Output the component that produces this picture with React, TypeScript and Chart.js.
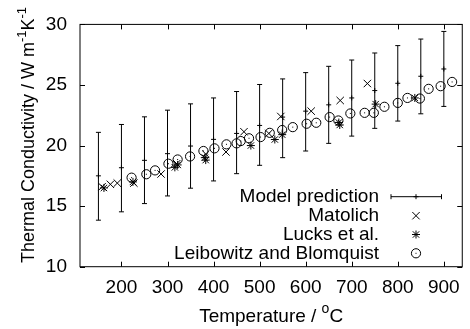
import React, { useEffect, useRef } from 'react';
import { Chart, registerables } from 'chart.js';

Chart.register(...registerables);

// ---- data ----
const modelT = [150, 200, 250, 300, 350, 400, 450, 500, 550, 600, 650, 700, 750, 800, 850, 900];
const modelMid = [17.5, 18.17, 18.78, 19.33, 19.96, 20.51, 21.0, 21.66, 22.35, 22.84, 23.36, 23.93, 24.54, 25.14, 25.72, 26.32];
const modelLow = [13.84, 14.53, 15.21, 15.84, 16.48, 17.08, 17.68, 18.37, 19.0, 19.55, 20.18, 20.78, 21.42, 22.02, 22.62, 23.23];
const modelHigh = [21.09, 21.74, 22.37, 22.92, 23.44, 23.93, 24.46, 25.04, 25.5, 26.02, 26.54, 27.06, 27.64, 28.25, 28.79, 29.42];

const matolichT = [158, 176, 191, 227, 286, 320, 383, 427, 466, 520, 546, 612, 675, 734];
const matolichK = [16.6, 16.8, 16.9, 16.9, 17.65, 18.5, 19.3, 19.47, 21.14, 21.0, 22.4, 22.84, 23.72, 25.12];

const lucksT = [162, 225, 316, 322, 381, 383, 481, 533, 549, 672, 674, 752, 837];
const lucksK = [16.5, 17.0, 18.2, 18.4, 19.0, 18.8, 20.0, 20.5, 20.9, 21.9, 21.7, 23.42, 23.93];

const leibT = [222, 254, 273, 302, 322, 349, 378, 402, 428, 450, 459, 477, 502, 522, 549, 572, 602, 623, 652, 671, 697, 728, 748, 771, 800, 821, 848, 867, 893, 918];
const leibK = [17.35, 17.63, 17.95, 18.5, 18.85, 19.1, 19.55, 19.77, 20.1, 20.18, 20.37, 20.6, 20.7, 21.05, 21.28, 21.52, 21.8, 21.88, 22.35, 22.07, 22.65, 22.7, 22.7, 23.2, 23.52, 23.93, 23.88, 24.68, 24.9, 25.25];

const xTicks = [200, 300, 400, 500, 600, 700, 800, 900];
const yTicks = [10, 15, 20, 25, 30];
const seriesNames = ['Model prediction', 'Matolich', 'Lucks et al.', 'Leibowitz and Blomquist'];

const FONT = "'Liberation Sans', Arial, Helvetica, sans-serif";
const FS = 19;

const toXY = (xs: number[], ys: number[]) => xs.map((x, i) => ({ x, y: ys[i] }));

function drawPlus(ctx: CanvasRenderingContext2D, x: number, y: number, r: number) {
  ctx.beginPath();
  ctx.moveTo(x - r, y); ctx.lineTo(x + r, y);
  ctx.moveTo(x, y - r); ctx.lineTo(x, y + r);
  ctx.stroke();
}
function drawCross(ctx: CanvasRenderingContext2D, x: number, y: number, r: number) {
  ctx.beginPath();
  ctx.moveTo(x - r, y - r); ctx.lineTo(x + r, y + r);
  ctx.moveTo(x - r, y + r); ctx.lineTo(x + r, y - r);
  ctx.stroke();
}
function drawStar(ctx: CanvasRenderingContext2D, x: number, y: number, r: number) {
  drawPlus(ctx, x, y, r);
  drawCross(ctx, x, y, r * 0.8);
}
function drawCircle(ctx: CanvasRenderingContext2D, x: number, y: number, r: number) {
  ctx.beginPath();
  ctx.arc(x, y, r, 0, Math.PI * 2);
  ctx.stroke();
  ctx.fillRect(x - 0.5, y - 0.5, 1, 1);
}

function drawSegments(ctx: CanvasRenderingContext2D, segs: { t: string; sup: boolean }[], cx: number, cy: number, size: number) {
  const main = `${size}px ${FONT}`;
  const sup = `${Math.round(size * 0.72)}px ${FONT}`;
  let total = 0;
  const widths = segs.map((s) => {
    ctx.font = s.sup ? sup : main;
    const w = ctx.measureText(s.t).width;
    total += w;
    return w;
  });
  let x = cx - total / 2;
  ctx.textAlign = 'left';
  ctx.textBaseline = 'middle';
  segs.forEach((s, i) => {
    ctx.font = s.sup ? sup : main;
    ctx.fillText(s.t, x, s.sup ? cy - 7 : cy);
    x += widths[i];
  });
}

const customPlugin = {
  id: 'gnuplotStyle',
  beforeDatasetsDraw(chart: any) {
    const ctx = chart.ctx as CanvasRenderingContext2D;
    const xs = chart.scales.x;
    const ys = chart.scales.y;
    ctx.save();
    ctx.strokeStyle = '#000';
    ctx.lineWidth = 1;
    modelT.forEach((t, i) => {
      const px = xs.getPixelForValue(t);
      const pl = ys.getPixelForValue(modelLow[i]);
      const ph = ys.getPixelForValue(modelHigh[i]);
      ctx.beginPath();
      ctx.moveTo(px, pl); ctx.lineTo(px, ph);
      ctx.moveTo(px - 2.5, pl); ctx.lineTo(px + 2.5, pl);
      ctx.moveTo(px - 2.5, ph); ctx.lineTo(px + 2.5, ph);
      ctx.stroke();
    });
    ctx.restore();
  },
  afterDatasetsDraw(chart: any) {
    const ctx = chart.ctx as CanvasRenderingContext2D;
    const xs = chart.scales.x;
    const ys = chart.scales.y;
    const a = chart.chartArea;
    ctx.save();
    ctx.strokeStyle = '#000';
    ctx.fillStyle = '#000';
    ctx.lineWidth = 1;
    // markers
    modelT.forEach((t, i) => drawPlus(ctx, xs.getPixelForValue(t), ys.getPixelForValue(modelMid[i]), 2.5));
    matolichT.forEach((t, i) => drawCross(ctx, xs.getPixelForValue(t), ys.getPixelForValue(matolichK[i]), 3.7));
    lucksT.forEach((t, i) => drawStar(ctx, xs.getPixelForValue(t), ys.getPixelForValue(lucksK[i]), 4));
    leibT.forEach((t, i) => drawCircle(ctx, xs.getPixelForValue(t), ys.getPixelForValue(leibK[i]), 4.6));
    // frame
    ctx.strokeRect(a.left, a.top, a.right - a.left, a.bottom - a.top);
    // inward ticks, mirrored
    const tl = 5;
    ctx.beginPath();
    xTicks.forEach((v) => {
      const px = Math.round(xs.getPixelForValue(v)) + 0.5;
      ctx.moveTo(px, a.bottom); ctx.lineTo(px, a.bottom - tl);
      ctx.moveTo(px, a.top); ctx.lineTo(px, a.top + tl);
    });
    yTicks.forEach((v) => {
      const py = Math.round(ys.getPixelForValue(v)) + 0.5;
      ctx.moveTo(a.left, py); ctx.lineTo(a.left + tl, py);
      ctx.moveTo(a.right, py); ctx.lineTo(a.right - tl, py);
    });
    ctx.stroke();
    // legend
    const textX = 379;
    const symX = 416;
    const rows = [196.7, 215.7, 234.5, 253.3];
    ctx.font = `${FS}px ${FONT}`;
    ctx.textAlign = 'right';
    ctx.textBaseline = 'middle';
    seriesNames.forEach((name, i) => ctx.fillText(name, textX, rows[i]));
    ctx.beginPath();
    ctx.moveTo(391, rows[0]); ctx.lineTo(441.5, rows[0]);
    ctx.moveTo(391, rows[0] - 2.5); ctx.lineTo(391, rows[0] + 2.5);
    ctx.moveTo(441.5, rows[0] - 2.5); ctx.lineTo(441.5, rows[0] + 2.5);
    ctx.stroke();
    drawPlus(ctx, symX, rows[0], 2.5);
    drawCross(ctx, symX, rows[1], 3.7);
    drawStar(ctx, symX, rows[2], 4);
    drawCircle(ctx, symX, rows[3], 4.6);
    // axis titles
    drawSegments(ctx, [
      { t: 'Temperature / ', sup: false },
      { t: 'o', sup: true },
      { t: 'C', sup: false },
    ], (a.left + a.right) / 2, 316.5, FS);
    ctx.translate(29, 135);
    ctx.rotate(-Math.PI / 2);
    drawSegments(ctx, [
      { t: 'Thermal Conductivity / W m', sup: false },
      { t: '-1', sup: true },
      { t: 'K', sup: false },
      { t: '-1', sup: true },
    ], 0, 0, 18);
    ctx.restore();
  },
};

export default function App() {
  const ref = useRef<HTMLCanvasElement | null>(null);
  useEffect(() => {
    document.body.style.margin = '0';
    const canvas = ref.current;
    if (!canvas) return;
    const chart = new Chart(canvas, {
      type: 'scatter',
      data: {
        datasets: [
          { label: seriesNames[0], data: toXY(modelT, modelMid), pointRadius: 0, showLine: false },
          { label: seriesNames[1], data: toXY(matolichT, matolichK), pointRadius: 0, showLine: false },
          { label: seriesNames[2], data: toXY(lucksT, lucksK), pointRadius: 0, showLine: false },
          { label: seriesNames[3], data: toXY(leibT, leibK), pointRadius: 0, showLine: false },
        ],
      },
      options: {
        animation: false,
        responsive: true,
        maintainAspectRatio: false,
        layout: { padding: { top: 23, right: 6.5, left: 0, bottom: 0 } },
        plugins: { legend: { display: false }, tooltip: { enabled: false } },
        events: [],
        scales: {
          x: {
            type: 'linear',
            min: 110,
            max: 940,
            border: { display: false },
            grid: { display: false, drawTicks: false, tickLength: 0 },
            afterBuildTicks: (s: any) => { s.ticks = xTicks.map((v) => ({ value: v })); },
            afterFit: (s: any) => { s.height = 62.3; },
            ticks: { color: '#000', padding: 10, font: { family: FONT, size: FS }, maxRotation: 0, autoSkip: false },
          },
          y: {
            type: 'linear',
            min: 10,
            max: 30,
            border: { display: false },
            grid: { display: false, drawTicks: false, tickLength: 0 },
            afterBuildTicks: (s: any) => { s.ticks = yTicks.map((v) => ({ value: v })); },
            afterFit: (s: any) => { s.width = 80; },
            ticks: { color: '#000', padding: 13, font: { family: FONT, size: FS } },
          },
        },
      },
      plugins: [customPlugin],
    } as any);
    return () => chart.destroy();
  }, []);
  return (
    <div style={{ position: 'relative', width: 470, height: 329 }}>
      <canvas ref={ref} />
    </div>
  );
}
